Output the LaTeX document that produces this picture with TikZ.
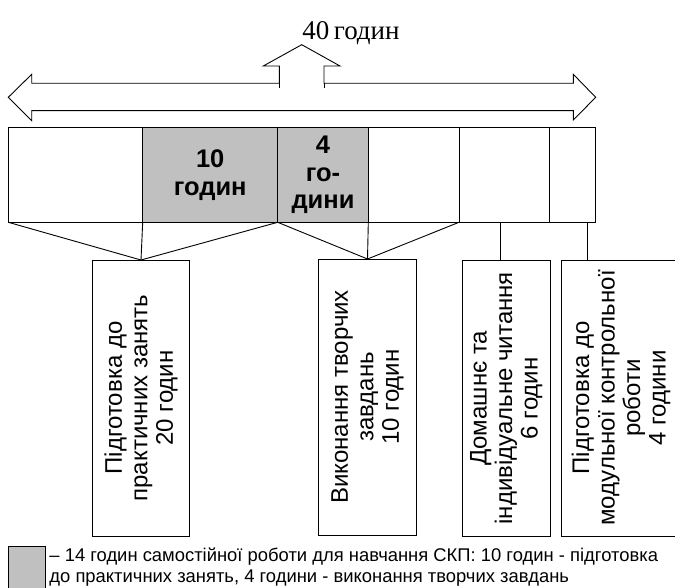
\documentclass[tikz,border=0pt]{standalone}
\usepackage{fontspec}
\setmainfont{Liberation Serif}
\setsansfont{Liberation Sans}
\usepackage{tikz}

\definecolor{cellgray}{HTML}{C0C0C0}

\begin{document}
\begin{tikzpicture}[x=1pt,y=-1pt,line width=0.9pt,
  cell/.style={draw,anchor=north west,minimum height=94.8pt,inner sep=0pt,outer sep=0pt,
    font=\sffamily\bfseries\fontsize{25.5}{27.5}\selectfont,align=center},
  shaded/.style={fill=cellgray},
  task/.style={draw,anchor=north,minimum height=276pt,inner sep=0pt,outer sep=0pt},
  tasktext/.style={rotate=90,align=center,font=\sffamily\fontsize{24}{25.5}\selectfont}]
\useasboundingbox (0,0) rectangle (675,588);
% total hours
\node[font=\fontsize{27}{30}\selectfont] (total) at (351,33) {40\,годин};
% arrow outline
\draw[line join=miter] (8.3,97.3) -- (31.7,74.3) -- (31.7,83.3) -- (279.3,83.3)
  -- (279.3,66) -- (263.3,66) -- (301.7,44.7) -- (340,66) -- (324,66) -- (324,83.3)
  -- (573.3,83.3) -- (573.3,74.3) -- (595.7,97.3) -- (573.3,120) -- (573.3,110.7)
  -- (31.7,110.7) -- (31.7,120.7) -- cycle;
\draw (279.3,83.3) -- (279.3,88.3);
\draw (324,83.3) -- (324,88.3);
% row of cells
\node[cell,minimum width=134.4pt] (c1) at (8.3,127.5) {};
\node[cell,shaded,minimum width=135pt] (c2) at (142.7,127.5) {10\\годин};
\node[cell,shaded,minimum width=90.6pt] (c3) at (277.7,127.5) {4\\го-\\дини};
\node[cell,minimum width=90.7pt] (c4) at (368.3,127.5) {};
\node[cell,minimum width=90.3pt] (c5) at (459,127.5) {};
\node[cell,minimum width=45.7pt] (c6) at (549.3,127.5) {};
% kinds of work
\node[task,minimum width=96.6pt] (b1) at (141,260) {};
\node[task,minimum width=98.4pt] (b2) at (367.5,259) {};
\node[task,minimum width=87.7pt] (b3) at (506.2,260.3) {};
\node[task,minimum width=119.7pt] (b4) at (621,260) {};
\node[tasktext] (t1) at (b1.center) {Підготовка до\\практичних занять\\20 годин};
\node[tasktext] (t2) at (b2.center) {Виконання творчих\\завдань\\10 годин};
\node[tasktext] (t3) at (b3.center) {Домашнє та\\індивідуальне читання\\6 годин};
\node[tasktext] (t4) at (b4.center) {Підготовка до\\модульної контрольної\\роботи\\4 години};
% connectors
\draw (c1.south west) -- (b1.north);
\draw (c2.south west) -- (b1.north);
\draw (c2.south east) -- (b1.north);
\draw (c3.south west) -- (b2.north);
\draw (c3.south east) -- (b2.north);
\draw (c4.south east) -- (b2.north);
\draw ([xshift=-4pt]c5.south) -- ([xshift=-4pt]c5.south |- b3.north);
\draw ([xshift=-8pt]c6.south east) -- ([xshift=-8pt]c6.south east |- b4.north);
% legend
\node[draw,fill=cellgray,anchor=north west,minimum width=36.7pt,minimum height=46pt,inner sep=0pt] (key) at (8.3,546) {};
\node[anchor=north west,align=left,inner sep=0pt,font=\sffamily\fontsize{18.4}{21}\selectfont] (keytext) at (49,547)
  {– 14 годин самостійної роботи для навчання СКП: 10 годин - підготовка\\до практичних занять, 4 години - виконання творчих завдань};
\end{tikzpicture}
\end{document}
